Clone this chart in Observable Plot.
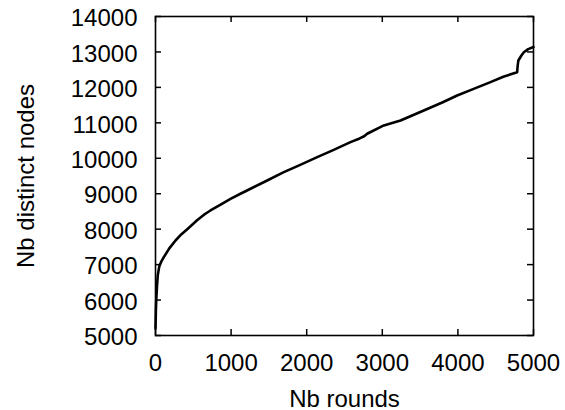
<!DOCTYPE html>
<html>
<head>
<meta charset="utf-8">
<script src="https://cdn.jsdelivr.net/npm/d3@7"></script>
<script src="https://cdn.jsdelivr.net/npm/@observablehq/plot@0.6"></script>
<style>
  html, body { margin: 0; padding: 0; background: #fff; }
  #chart svg { display: block; }
</style>
</head>
<body>
<div id="chart"></div>
<script>
// Data
const rounds = [0, 5, 10, 20, 30, 50, 80, 110, 180, 265, 340, 420, 550, 650, 727, 850, 992, 1124, 1257, 1477, 1697, 1900, 2139, 2350, 2579, 2700, 2760, 2800, 3020, 3241, 3549, 3800, 3990, 4200, 4431, 4600, 4784, 4790, 4800, 4840, 4872, 4930, 5000];
const nodes  = [5200, 5700, 6000, 6400, 6700, 6950, 7100, 7210, 7450, 7680, 7850, 8000, 8250, 8420, 8527, 8680, 8857, 9000, 9140, 9374, 9608, 9800, 10031, 10230, 10455, 10560, 10620, 10691, 10926, 11067, 11349, 11580, 11772, 11950, 12148, 12300, 12430, 12600, 12760, 12900, 12990, 13080, 13140];
const xTicks = [0, 1000, 2000, 3000, 4000, 5000];
const yTicks = [5000, 6000, 7000, 8000, 9000, 10000, 11000, 12000, 13000, 14000];
const xLabel = "Nb rounds";
const yLabel = "Nb distinct nodes";

const data = rounds.map((r, i) => ({r, n: nodes[i]}));

const W = 565, H = 410;
const mL = 155, mR = 32, mT = 16, mB = 75;
const plotW = W - mL - mR, plotH = H - mT - mB;
const tickLen = 6;
const font = "'Liberation Sans', Arial, Helvetica, sans-serif";

const chart = Plot.plot({
  width: W,
  height: H,
  marginLeft: mL,
  marginRight: mR,
  marginTop: mT,
  marginBottom: mB,
  style: {fontFamily: font, fontSize: "24px", color: "#000", background: "#fff"},
  x: {domain: [0, 5000]},
  y: {domain: [5000, 14000]},
  marks: [
    Plot.axisX(xTicks, {tickSize: 0, tickPadding: 18, tickFormat: d => String(d), fontSize: 24, label: null}),
    Plot.axisY(yTicks, {tickSize: 0, tickPadding: 18, tickFormat: d => String(d), fontSize: 24, dy: 2, label: null}),
    // inward ticks on all four sides
    Plot.ruleX(xTicks, {x: d => d, insetTop: plotH - tickLen, stroke: "#000", strokeWidth: 1.5}),
    Plot.ruleX(xTicks, {x: d => d, insetBottom: plotH - tickLen, stroke: "#000", strokeWidth: 1.5}),
    Plot.ruleY(yTicks, {y: d => d, insetRight: plotW - tickLen, stroke: "#000", strokeWidth: 1.5}),
    Plot.ruleY(yTicks, {y: d => d, insetLeft: plotW - tickLen, stroke: "#000", strokeWidth: 1.5}),
    Plot.frame({stroke: "#000", strokeWidth: 1.6}),
    Plot.line(data, {x: "r", y: "n", stroke: "#000", strokeWidth: 2.6, strokeLinejoin: "round", strokeLinecap: "round"}),
    Plot.text([xLabel], {text: d => d, frameAnchor: "bottom", lineAnchor: "bottom", dy: 71, fontSize: 24, fill: "#000"}),
    Plot.text([yLabel], {text: d => d, frameAnchor: "left", textAnchor: "middle", lineAnchor: "bottom", rotate: -90, dx: 33 - mL, fontSize: 24, fill: "#000"})
  ]
});
document.getElementById("chart").appendChild(chart);
</script>
</body>
</html>
